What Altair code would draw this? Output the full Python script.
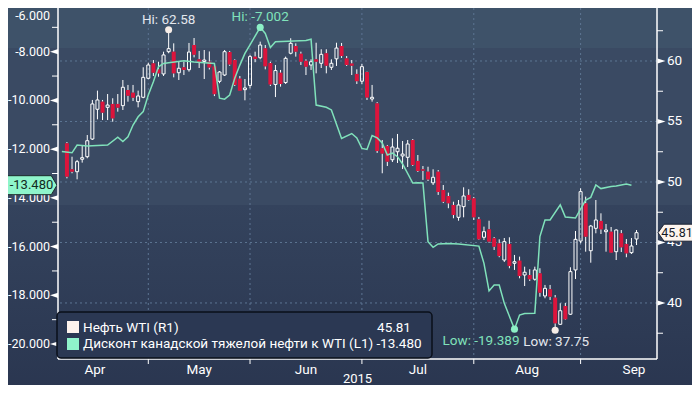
import altair as alt
import pandas as pd

# ---------------- data ----------------
# WTI daily candles, trading-day index 0..112 (Apr 9 .. Sep 17, 2015)
opens = [53.20, 51.05, 50.85, 51.88, 52.09, 53.55, 56.01, 56.64, 56.17, 56.45,
         56.45, 56.31, 57.60, 57.38, 56.64, 57.00, 58.57, 59.81, 59.31, 58.93,
         60.77, 60.77, 59.03, 59.48, 59.28, 61.32, 60.14, 59.96, 59.94, 59.56,
         58.32, 58.84, 60.74, 60.08, 58.54, 57.63, 57.98, 60.36, 60.27, 61.05,
         59.83, 58.06, 59.03, 58.22, 60.64, 61.24, 60.60, 60.02, 59.67, 60.14,
         59.81, 60.64, 59.48, 60.18, 61.24, 60.22, 59.79, 58.93, 58.33, 59.09,
         56.86, 56.50, 52.79, 52.98, 51.84, 52.50, 52.15, 52.04, 53.47, 51.74,
         51.05, 50.85, 49.93, 50.85, 49.34, 48.84, 48.10, 47.08, 47.96, 48.93,
         48.65, 46.92, 45.43, 46.09, 45.35, 44.93, 43.55, 44.88, 43.28, 43.50,
         42.31, 42.31, 41.96, 42.45, 40.58, 41.13, 40.44, 38.24, 39.75, 39.07,
         42.73, 45.12, 48.24, 44.32, 46.17, 46.78, 45.89, 45.89, 44.24, 45.76,
         44.88, 44.16, 45.29]
highs = [53.30, 52.09, 51.82, 53.06, 53.88, 56.78, 57.55, 56.78, 57.27, 56.92,
         57.27, 58.43, 58.02, 58.02, 57.55, 59.48, 59.86, 60.08, 59.94, 60.77,
         62.58, 61.46, 59.92, 59.94, 61.49, 61.90, 60.83, 60.91, 60.79, 59.70,
         59.17, 60.91, 60.83, 60.14, 58.76, 58.51, 60.50, 60.77, 61.60, 61.32,
         59.94, 59.67, 59.26, 60.36, 61.88, 61.46, 60.77, 60.14, 60.14, 61.51,
         60.97, 60.97, 60.14, 61.51, 61.49, 60.41, 60.08, 59.31, 59.75, 59.12,
         58.02, 56.60, 53.47, 53.06, 53.61, 53.97, 53.39, 53.47, 53.55, 52.23,
         51.32, 51.26, 51.05, 50.99, 49.75, 49.12, 48.37, 48.51, 49.56, 49.40,
         48.76, 47.11, 46.31, 46.80, 45.45, 45.26, 45.37, 45.43, 43.97, 43.83,
         43.00, 42.79, 43.00, 42.87, 41.49, 41.49, 40.66, 39.98, 40.00, 42.95,
         45.95, 49.48, 48.79, 46.45, 48.51, 47.41, 46.53, 46.28, 46.09, 46.03,
         45.29, 45.37, 46.03]
lows = [50.30, 50.72, 50.22, 51.60, 51.96, 53.47, 55.18, 55.12, 55.12, 54.98,
        55.81, 55.95, 56.64, 56.69, 56.17, 56.92, 58.49, 58.76, 58.70, 58.76,
        60.64, 58.65, 58.43, 58.84, 59.12, 60.30, 59.42, 58.51, 59.30, 57.10,
        58.16, 58.76, 59.60, 57.93, 57.52, 56.75, 57.74, 59.90, 60.14, 59.31,
        57.93, 57.02, 57.88, 58.10, 60.55, 60.36, 59.67, 58.84, 59.26, 58.98,
        59.42, 58.98, 59.26, 59.59, 60.25, 59.59, 58.84, 58.10, 58.10, 56.78,
        56.64, 52.40, 50.72, 51.32, 51.65, 51.57, 51.07, 51.24, 51.32, 50.83,
        50.17, 50.08, 49.75, 48.93, 48.26, 47.83, 47.00, 46.80, 47.08, 48.45,
        46.86, 45.21, 45.21, 44.98, 44.38, 43.78, 43.39, 42.87, 42.73, 42.04,
        41.40, 41.82, 41.84, 40.52, 40.39, 40.25, 37.75, 38.18, 38.60, 39.01,
        41.98, 44.93, 44.24, 43.33, 45.76, 45.70, 44.24, 44.13, 43.55, 44.21,
        43.78, 44.05, 44.79]
closes = [50.44, 50.85, 51.68, 52.01, 53.41, 56.45, 56.78, 55.73, 56.36, 55.26,
          56.14, 57.83, 57.13, 56.97, 57.11, 58.65, 59.67, 59.03, 58.98, 60.50,
          61.02, 58.98, 59.40, 59.26, 60.74, 60.52, 59.85, 60.08, 59.46, 57.26,
          59.09, 60.77, 59.71, 58.02, 57.54, 57.77, 60.36, 60.17, 61.32, 59.56,
          58.06, 59.21, 58.10, 60.22, 61.46, 60.77, 59.94, 59.53, 59.94, 59.94,
          60.55, 59.61, 59.81, 61.07, 60.41, 59.67, 59.61, 58.33, 59.53, 56.98,
          57.00, 52.56, 52.35, 51.68, 52.89, 52.79, 52.31, 53.14, 51.40, 50.91,
          50.93, 50.21, 50.39, 49.17, 48.37, 48.24, 47.27, 48.10, 48.84, 48.51,
          47.08, 45.26, 45.89, 45.07, 44.65, 43.88, 45.07, 43.06, 43.41, 42.23,
          42.54, 41.96, 42.73, 40.85, 41.21, 40.52, 38.32, 39.36, 38.65, 42.59,
          45.26, 49.20, 45.48, 46.36, 46.86, 46.09, 46.03, 44.16, 46.03, 44.60,
          44.10, 44.71, 45.81]

# Canadian heavy oil discount to WTI (left axis), trading-day index / value
disc_idx = [-1, 1, 2, 4, 8, 10, 11, 12, 13, 14, 15, 16, 17, 18, 19, 20, 23, 25,
            29, 30, 31, 32, 33, 34, 35, 36, 38, 39, 40, 41, 47, 48, 49, 51, 52,
            54, 56, 57, 58, 59, 60, 61, 62, 63, 64, 65, 66, 68, 69, 70, 71, 72,
            73, 75, 77, 81, 82, 83, 84, 85, 86, 88, 89, 90, 92, 93, 94, 95, 97,
            98, 100, 102, 103, 104, 105, 107, 108, 110, 111]
disc_val = [-12.10, -12.15, -11.83, -11.87, -11.83, -11.51, -11.69, -11.49,
            -11.01, -10.67, -10.46, -9.78, -9.23, -8.62, -8.48, -8.45, -8.37,
            -8.42, -8.48, -9.91, -9.95, -9.78, -9.09, -8.55, -8.07, -7.72,
            -7.002, -7.25, -7.83, -7.59, -7.54, -7.49, -10.19, -10.28, -10.39,
            -11.56, -11.36, -11.54, -11.97, -12.01, -11.44, -11.54, -11.75,
            -12.24, -12.16, -12.31, -12.61, -13.39, -13.38, -13.39, -15.80,
            -16.03, -15.89, -15.87, -15.89, -15.98, -16.69, -17.82, -17.58,
            -17.58, -18.33, -19.389, -18.81, -18.75, -18.74, -15.59, -14.91,
            -14.91, -14.29, -14.79, -14.83, -14.09, -13.98, -13.47, -13.62,
            -13.53, -13.51, -13.43, -13.48]

month_names = ["Apr", "May", "Jun", "Jul", "Aug", "Sep"]
month_mid = [5.5, 26, 47, 69, 90.5, 111.5]
month_start = [16, 36, 58, 80, 101]
year_label = "2015"

right_ticks = [40, 45, 50, 55, 60]
right_minor = [37.5, 42.5, 47.5, 52.5, 57.5, 62.5]
left_ticks = [-20, -18, -16, -14, -12, -10, -8]
left_minor = [-19, -17, -15, -13, -11, -9, -7]
left_top_label = "-6.000"

wti_marks_idx = [20, 96]
wti_marks_val = [62.58, 37.75]
wti_marks_txt = ["Hi: 62.58", "Low: 37.75"]
disc_marks_idx = [38, 88]
disc_marks_val = [-7.002, -19.389]
disc_marks_txt = ["Hi: -7.002", "Low: -19.389"]

wti_last = 45.81
disc_last = -13.480
legend_labels = ["Нефть WTI (R1)", "Дисконт канадской тяжелой нефти к WTI (L1)"]
legend_values = ["45.81", "-13.480"]

# ---------------- styling ----------------
FONT = "Roboto"
W, H = 599, 351
RED = "#dc143c"
CANDLE_W = "#ffffff"
GREEN = "#80e2bb"
GRID = "#5d7593"

X = alt.Scale(domain=[-0.773, 115.04], nice=False, zero=False)
YR = alt.Scale(domain=[35.37, 64.38], nice=False, zero=False)
YL = alt.Scale(domain=[-20.615, -6.206], nice=False, zero=False)

cdf = pd.DataFrame({"k": list(range(len(opens))), "o": opens, "h": highs,
                    "l": lows, "c": closes})
cdf["top"] = cdf[["o", "c"]].max(axis=1)
cdf["bot"] = cdf[["o", "c"]].min(axis=1)
up = cdf[cdf.c >= cdf.o]
dn = cdf[cdf.c < cdf.o]

ddf = pd.DataFrame({"k": disc_idx, "v": disc_val})
one = pd.DataFrame({"a": [0]})

xk = alt.X("k:Q", scale=X, axis=None)
yr = lambda f: alt.Y(f, scale=YR, axis=None)
yl = lambda f: alt.Y(f, scale=YL, axis=None)

# ---------------- background ----------------
bg = alt.layer(
    alt.Chart(one).mark_rect(color="#3e5269").encode(
        x=alt.value(-50), x2=alt.value(634), y=alt.value(-8), y2=alt.value(40)),
    alt.Chart(one).mark_rect(color="#3a4a63").encode(
        x=alt.value(-50), x2=alt.value(634), y=alt.value(40), y2=alt.value(197)),
    alt.Chart(one).mark_rect(
        color=alt.LinearGradient(
            gradient="linear",
            stops=[alt.GradientStop(color="#34435d", offset=0),
                   alt.GradientStop(color="#2a3650", offset=1)],
            x1=0, x2=0, y1=0, y2=1)).encode(
        x=alt.value(-50), x2=alt.value(634), y=alt.value(197), y2=alt.value(385)),
)

# ---------------- right (WTI) group ----------------
hgrid = alt.Chart(pd.DataFrame({"v": right_ticks})).mark_rule(
    color=GRID, strokeDash=[2, 3], strokeWidth=1).encode(y=yr("v:Q"))
vgrid = alt.Chart(pd.DataFrame({"k": month_start})).mark_rule(
    color=GRID, strokeDash=[2, 3], strokeWidth=1).encode(x=xk)

rlab = alt.Chart(pd.DataFrame({"v": right_ticks,
                               "t": [str(v) for v in right_ticks]})).mark_text(
    color="white", fontSize=13.5, font=FONT, align="left", baseline="middle").encode(
    x=alt.value(609), y=yr("v:Q"), text="t:N")

mlab = alt.Chart(pd.DataFrame({"k": month_mid, "t": month_names})).mark_text(
    color="white", fontSize=13.5, font=FONT, baseline="middle").encode(
    x=xk, y=alt.value(361.5), text="t:N")

year_t = alt.Chart(pd.DataFrame({"t": [year_label]})).mark_text(
    color="white", fontSize=13, font=FONT, baseline="middle").encode(
    x=alt.value(299.5), y=alt.value(371), text="t:N")

mticks = alt.Chart(pd.DataFrame({"k": month_start})).mark_rule(
    color="white", strokeWidth=1).encode(x=xk, y=alt.value(351), y2=alt.value(356))

rminor = alt.Chart(pd.DataFrame({"v": right_minor})).mark_rule(
    color="white", strokeWidth=1).encode(
    x=alt.value(599), x2=alt.value(605), y=yr("v:Q"))
rtri = alt.Chart(pd.DataFrame({"v": right_ticks})).mark_point(
    shape="M 1 0 L -1 -0.65 L -1 0.65 Z", size=64, filled=True, color="white",
    opacity=1).encode(x=alt.value(603.5), y=yr("v:Q"))

wick_hi = alt.Chart(cdf).mark_rule(color=CANDLE_W, strokeWidth=1).encode(
    x=xk, y=yr("h:Q"), y2="top:Q")
wick_lo = alt.Chart(cdf).mark_rule(color=CANDLE_W, strokeWidth=1).encode(
    x=xk, y=yr("bot:Q"), y2="l:Q")
body_up = alt.Chart(up).mark_bar(size=3, fillOpacity=0, stroke=CANDLE_W,
                                 strokeWidth=1).encode(
    x=xk, y=yr("o:Q"), y2="c:Q")
body_dn = alt.Chart(dn).mark_bar(size=4, color=RED).encode(
    x=xk, y=yr("o:Q"), y2="c:Q")

wmk = pd.DataFrame({"k": wti_marks_idx, "v": wti_marks_val, "t": wti_marks_txt})
wti_dots = alt.Chart(wmk).mark_circle(size=50, color="#f6ede7", opacity=1).encode(
    x=xk, y=yr("v:Q"))
wti_hi_t = alt.Chart(wmk.iloc[[0]]).mark_text(
    color="#e3e7ee", fontSize=13.5, font=FONT, dy=-10).encode(
    x=xk, y=yr("v:Q"), text="t:N")
wti_lo_t = alt.Chart(wmk.iloc[[1]]).mark_text(
    color="#e3e7ee", fontSize=13.5, font=FONT, dy=12, dx=1).encode(
    x=xk, y=yr("v:Q"), text="t:N")

rtag_df = pd.DataFrame({"v": [wti_last], "t": [legend_values[0]]})
rtag = alt.Chart(rtag_df).mark_point(
    shape="M -1 0 L -0.657 -0.486 L 1 -0.486 L 1 0.486 L -0.657 0.486 Z",
    size=35 * 35, filled=True, fill="#fdf4ee", stroke="#1b2233", strokeWidth=1,
    opacity=1).encode(x=alt.value(617.5), y=yr("v:Q"))
rtag_t = alt.Chart(rtag_df).mark_text(color="#151a26", fontSize=12.5,
                                       font=FONT).encode(
    x=alt.value(619), y=yr("v:Q"), text="t:N")

right_group = alt.layer(hgrid, vgrid, mticks, rminor, rtri, rlab, mlab, year_t,
                        wick_hi, wick_lo, body_up, body_dn, wti_dots, wti_hi_t,
                        wti_lo_t)

# ---------------- left (discount) group ----------------
line = alt.Chart(ddf).mark_line(color=GREEN, strokeWidth=1.5, clip=True).encode(
    x=xk, y=yl("v:Q"))

llab = alt.Chart(pd.DataFrame({"v": left_ticks,
                               "t": [f"{v:.3f}" for v in left_ticks]})).mark_text(
    color="white", fontSize=12.5, font=FONT, align="right", baseline="middle").encode(
    x=alt.value(-8), y=yl("v:Q"), text="t:N")
lminor = alt.Chart(pd.DataFrame({"v": left_minor})).mark_rule(
    color="white", strokeWidth=1).encode(
    x=alt.value(-6), x2=alt.value(0), y=yl("v:Q"))
ltri = alt.Chart(pd.DataFrame({"v": left_ticks})).mark_point(
    shape="M -1 0 L 1 -0.65 L 1 0.65 Z", size=64, filled=True, color="white",
    opacity=1).encode(x=alt.value(-4), y=yl("v:Q"))
ltop = alt.Chart(pd.DataFrame({"t": [left_top_label]})).mark_text(
    color="white", fontSize=12.5, font=FONT, align="right", baseline="middle").encode(
    x=alt.value(-8), y=alt.value(8), text="t:N")

dmk = pd.DataFrame({"k": disc_marks_idx, "v": disc_marks_val, "t": disc_marks_txt})
disc_dots = alt.Chart(dmk).mark_circle(size=50, color="#8cf0c6", opacity=1).encode(
    x=xk, y=yl("v:Q"))
disc_hi_t = alt.Chart(dmk.iloc[[0]]).mark_text(
    color=GREEN, fontSize=13.5, font=FONT, dy=-10).encode(
    x=xk, y=yl("v:Q"), text="t:N")
disc_lo_t = alt.Chart(dmk.iloc[[1]]).mark_text(
    color=GREEN, fontSize=13.5, font=FONT, dy=12, dx=5, align="right").encode(
    x=xk, y=yl("v:Q"), text="t:N")

ltag_df = pd.DataFrame({"v": [disc_last], "t": [legend_values[1]]})
ltag = alt.Chart(ltag_df).mark_point(
    shape="M 1 0 L 0.8 -0.333 L -1 -0.333 L -1 0.333 L 0.8 0.333 Z",
    size=57 * 57, filled=True, fill="#8ff5cb", stroke="#1b2a2a", strokeWidth=1,
    opacity=1).encode(x=alt.value(-29.5), y=yl("v:Q"))
ltag_t = alt.Chart(ltag_df).mark_text(color="#122a22", fontSize=13, font=FONT).encode(
    x=alt.value(-26.5), y=yl("v:Q"), text="t:N")

left_group = alt.layer(llab, lminor, ltri, ltop, line, disc_dots, disc_hi_t,
                       disc_lo_t, ltag, ltag_t)

# ---------------- axis lines, legend & tags on top ----------------
frame = alt.layer(
    alt.Chart(one).mark_rule(color="white", strokeWidth=1.5).encode(
        x=alt.value(0), y=alt.value(-8), y2=alt.value(351)),
    alt.Chart(one).mark_rule(color="white", strokeWidth=1.5).encode(
        x=alt.value(599), y=alt.value(-8), y2=alt.value(351)),
    alt.Chart(one).mark_rule(color="white", strokeWidth=1.5).encode(
        x=alt.value(0), x2=alt.value(599), y=alt.value(351)),
)

legend = alt.layer(
    alt.Chart(one).mark_rect(fill="#2b3853", stroke="#0a0f1a", strokeWidth=1.5,
                             cornerRadius=4).encode(
        x=alt.value(-1), x2=alt.value(374), y=alt.value(304), y2=alt.value(350)),
    alt.Chart(one).mark_rect(color="#fdf2ec").encode(
        x=alt.value(9), x2=alt.value(21), y=alt.value(313), y2=alt.value(325)),
    alt.Chart(one).mark_rect(color="#8ff3cb").encode(
        x=alt.value(9), x2=alt.value(21), y=alt.value(330), y2=alt.value(342)),
    alt.Chart(pd.DataFrame({"t": [legend_labels[0]]})).mark_text(
        color="white", fontSize=13.5, font=FONT, align="left", baseline="middle").encode(
        x=alt.value(25), y=alt.value(319.5), text="t:N"),
    alt.Chart(pd.DataFrame({"t": [legend_labels[1]]})).mark_text(
        color="white", fontSize=13.5, font=FONT, align="left", baseline="middle").encode(
        x=alt.value(25), y=alt.value(336), text="t:N"),
    alt.Chart(pd.DataFrame({"t": [legend_values[0]]})).mark_text(
        color="white", fontSize=13.5, font=FONT, align="center", baseline="middle").encode(
        x=alt.value(336), y=alt.value(319.5), text="t:N"),
    alt.Chart(pd.DataFrame({"t": [legend_values[1]]})).mark_text(
        color="white", fontSize=13.5, font=FONT, align="center", baseline="middle").encode(
        x=alt.value(341), y=alt.value(336), text="t:N"),
)

right_tags = alt.layer(rtag, rtag_t)

chart = alt.layer(bg, right_group, left_group, frame, legend, right_tags).resolve_scale(
    y="independent").properties(
    width=W, height=H,
    autosize=alt.AutoSizeParams(type="none"),
    padding={"left": 50, "top": 0, "right": 35, "bottom": 26},
    background="#2b3852",
).configure_view(stroke=None)

chart.save("out.html", embed_options={"renderer": "svg", "actions": False})
